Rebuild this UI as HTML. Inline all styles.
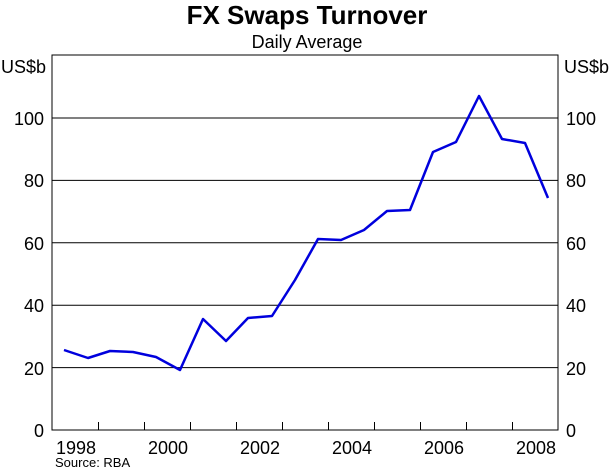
<!DOCTYPE html>
<html><head><style>body{margin:0;background:#fff}</style></head><body>
<svg width="612" height="469" xmlns="http://www.w3.org/2000/svg" font-family="Liberation Sans, Arial, sans-serif">
<rect width="612" height="469" fill="#fff"/>
<text x="307" y="24" font-size="26" font-weight="bold" text-anchor="middle">FX Swaps Turnover</text>
<text x="307" y="48" font-size="18" text-anchor="middle">Daily Average</text>
<g stroke="#000" stroke-width="1">
<line x1="52" y1="118" x2="558" y2="118"/>
<line x1="52" y1="180.4" x2="558" y2="180.4"/>
<line x1="52" y1="242.8" x2="558" y2="242.8"/>
<line x1="52" y1="305.2" x2="558" y2="305.2"/>
<line x1="52" y1="367.6" x2="558" y2="367.6"/>
</g>
<rect x="52" y="55" width="506" height="375" fill="none" stroke="#000" stroke-width="1"/>
<g stroke="#000">
<line x1="98.5" y1="422" x2="98.5" y2="430"/><line x1="144.5" y1="422" x2="144.5" y2="430"/><line x1="190.5" y1="422" x2="190.5" y2="430"/><line x1="236.5" y1="422" x2="236.5" y2="430"/><line x1="282.5" y1="422" x2="282.5" y2="430"/><line x1="328.5" y1="422" x2="328.5" y2="430"/><line x1="374.5" y1="422" x2="374.5" y2="430"/><line x1="420.5" y1="422" x2="420.5" y2="430"/><line x1="466.5" y1="422" x2="466.5" y2="430"/><line x1="512.5" y1="422" x2="512.5" y2="430"/>
</g>
<g font-size="18">
<text x="1" y="73">US$b</text>
<text x="564" y="73">US$b</text>
<g text-anchor="end">
<text x="44" y="125">100</text><text x="44" y="187">80</text><text x="44" y="250">60</text><text x="44" y="312">40</text><text x="44" y="375">20</text><text x="44" y="437">0</text>
</g>
<g text-anchor="start">
<text x="566" y="125">100</text><text x="566" y="187">80</text><text x="566" y="250">60</text><text x="566" y="312">40</text><text x="566" y="375">20</text><text x="566" y="437">0</text>
</g>
<g text-anchor="middle">
<text x="76" y="454">1998</text><text x="168" y="454">2000</text><text x="260" y="454">2002</text><text x="352" y="454">2004</text><text x="444" y="454">2006</text><text x="536" y="454">2008</text>
</g>
</g>
<text x="55" y="467" font-size="13">Source: RBA</text>
<polyline fill="none" stroke="#0000dd" stroke-width="2.5" stroke-linejoin="round" points="64,350 88,358 110,351 133,352 156,357 180,370 203,319 226,341 248,318 272,316 295,280 318,239 341,240 364,230 387,211 410,210 433,152 456,142 479,96 502,139 525,143 548,198"/>
</svg>
</body></html>
